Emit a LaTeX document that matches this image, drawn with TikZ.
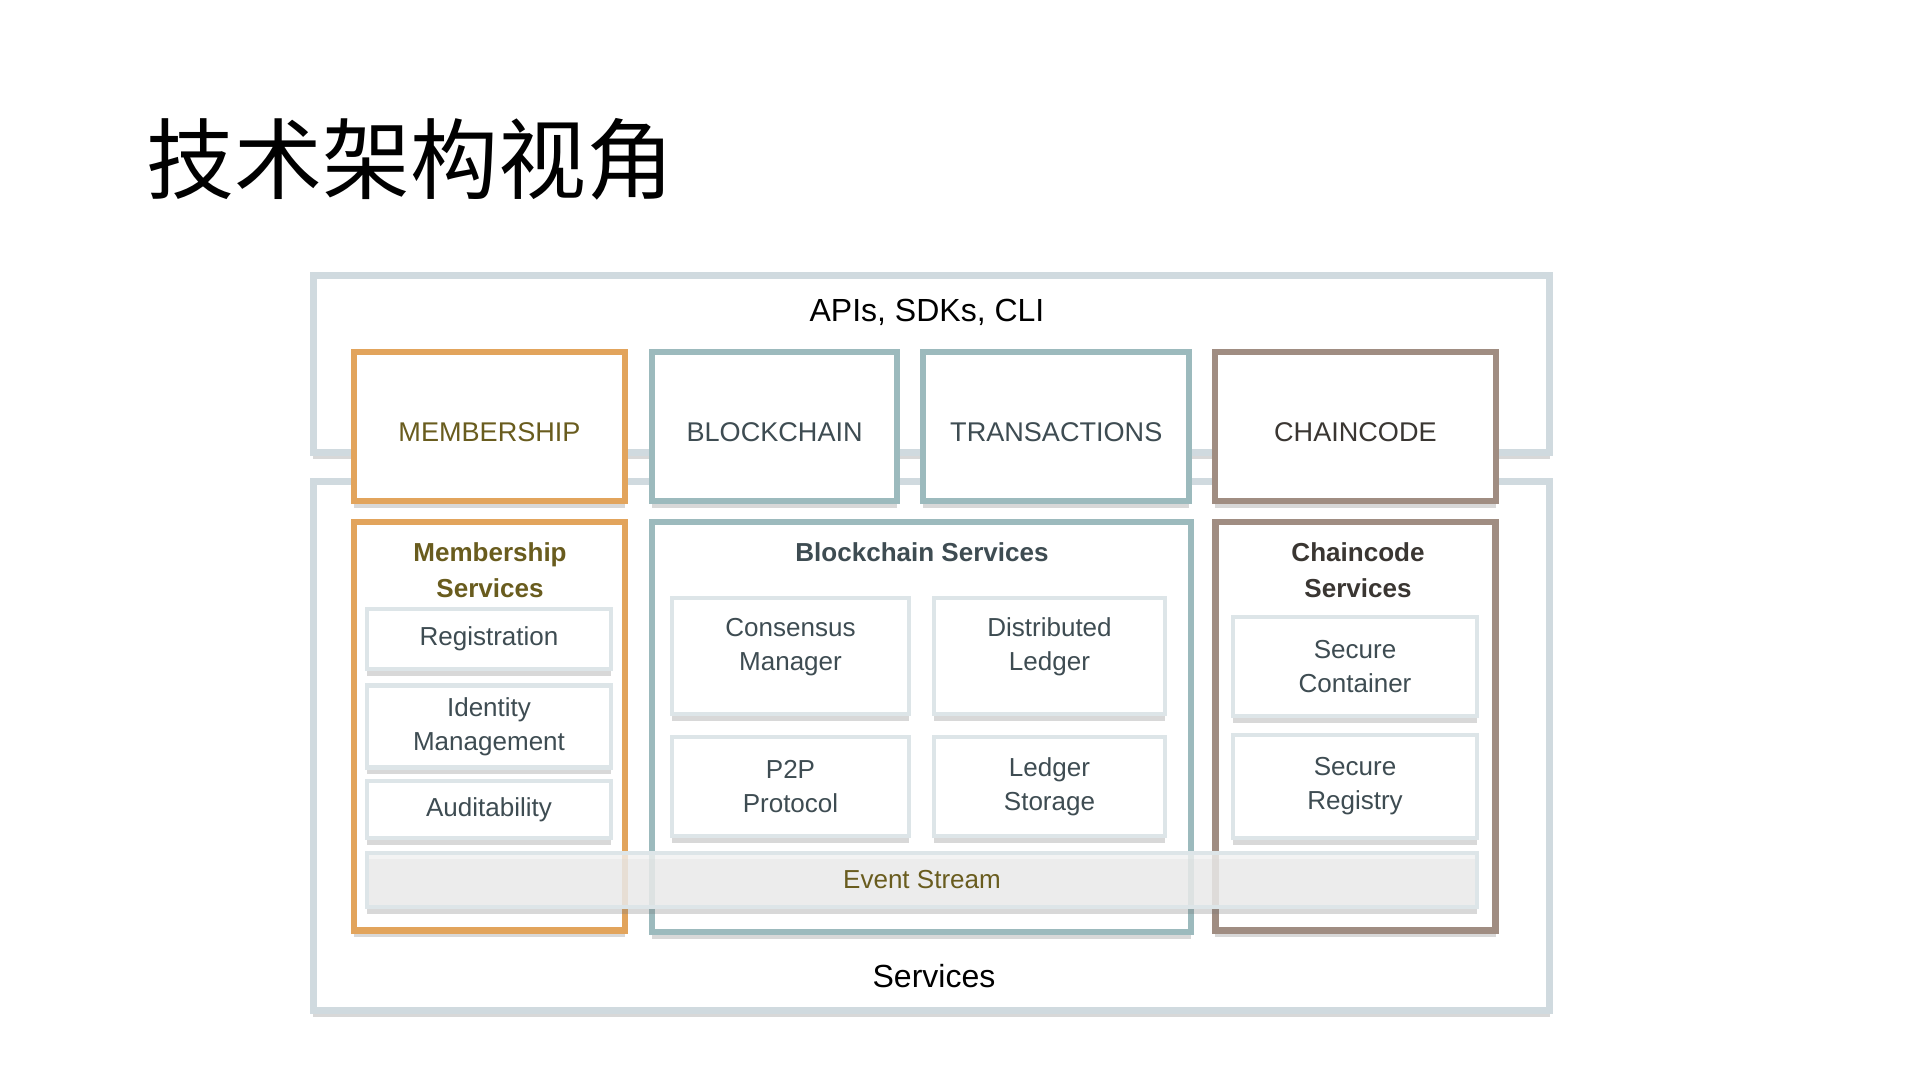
\documentclass[tikz,border=0pt]{standalone}
\usepackage{fontspec}
\setmainfont{Liberation Sans}
\newfontfamily\cjkfont{Noto Sans CJK SC}
\usetikzlibrary{positioning,shadows}
\definecolor{FrameGrey} {RGB}{208,218,223}
\definecolor{BoxGrey}   {RGB}{221,229,232}
\definecolor{MemOrange} {RGB}{226,164,92}
\definecolor{ChainTeal} {RGB}{156,186,189}
\definecolor{CodeBrown} {RGB}{160,141,130}
\definecolor{TextOlive} {RGB}{105,92,30}
\definecolor{TextSlate} {RGB}{62,76,82}
\definecolor{TextDark}  {RGB}{58,54,50}
\definecolor{StreamFill}{RGB}{241,241,241}

\begin{document}
\begin{tikzpicture}[x=0.01cm, y=-0.01cm,
  soft/.style ={drop shadow={shadow xshift=0pt, shadow yshift=-0.065cm,
                opacity=0.28, fill=black!55}},
  frame/.style={rectangle, draw=FrameGrey, line width=2pt, fill=white,
                minimum width=12.36cm, soft},
  layer/.style={rectangle, draw, line width=1.7pt, fill=white,
                minimum height=1.49cm, text height=8.4pt, text depth=0pt,
                font=\fontsize{7.7}{9}\selectfont, soft},
  panel/.style={rectangle, draw, line width=1.8pt, fill=white,
                minimum width=2.71cm, minimum height=4.08cm, soft},
  head/.style ={align=center, font=\bfseries\fontsize{7.4}{10.1}\selectfont},
  part/.style ={rectangle, draw=BoxGrey, line width=1.2pt, fill=white,
                align=center, text=TextSlate, minimum width=2.44cm,
                font=\fontsize{7.4}{9.7}\selectfont, soft},
  parttext/.style={align=center, text=TextSlate, yshift=0.09cm,
                font=\fontsize{7.4}{9.7}\selectfont},
  caption/.style={font=\fontsize{9.1}{11}\selectfont, text=black}
]
\useasboundingbox (0,0) rectangle (1920,1080);

% title
\node[anchor=west, inner sep=0pt, font=\cjkfont\fontsize{25}{27}\selectfont]
  (title) at (146,159) {技术架构视角};

% outer frames
\node[frame, minimum height=1.77cm] (api) at (931.5,364) {};
\node[frame, minimum height=5.29cm] (svc) at (931.5,746) {};
\node[caption] (apis)  at (927,312) {APIs, SDKs, CLI};
\node[caption] (svcs)  at (934,976) {Services};

% top row
\node[layer, draw=MemOrange, text=TextOlive, minimum width=2.71cm]
  (mem) at (489.5,426.5) {MEMBERSHIP};
\node[layer, draw=ChainTeal, text=TextSlate, minimum width=2.45cm,
  right=0.21cm of mem] (bc) {BLOCKCHAIN};
\node[layer, draw=ChainTeal, text=TextSlate, minimum width=2.66cm,
  right=0.2cm of bc] (tx) {TRANSACTIONS};
\node[layer, draw=CodeBrown, text=TextDark, minimum width=2.80cm,
  right=0.2cm of tx] (cc) {CHAINCODE};

% service panels
\node[panel, draw=MemOrange, below=0.15cm of mem] (mp) {};
\node[panel, draw=ChainTeal, minimum width=5.39cm, minimum height=4.10cm]
  (bp) at (921.5,727) {};
\node[panel, draw=CodeBrown, minimum width=2.80cm, below=0.15cm of cc] (cp) {};

\node[head, text=TextOlive] (mph) at (490,570)  {Membership\\Services};
\node[head, text=TextSlate] (bph) at (922,552)  {Blockchain Services};
\node[head, text=TextDark]  (cph) at (1358,570) {Chaincode\\Services};

% membership parts
\node[part, minimum height=0.60cm] (reg) at (489,639)   {Registration};
\node[part, minimum height=0.77cm] (idm) at (489,726.5) {Identity\\Management};
\node[part, minimum height=0.57cm] (aud) at (489,809.5) {Auditability};

% blockchain parts (upper pair has its text set high)
\node[part, minimum width=2.37cm, minimum height=1.16cm,
  label={[parttext]center:Consensus\\Manager}] (con) at (790.5,656) {};
\node[part, minimum width=2.31cm, minimum height=1.16cm,
  label={[parttext]center:Distributed\\Ledger}] (dis) at (1049.5,656) {};
\node[part, minimum width=2.37cm, minimum height=0.99cm]
  (p2p) at (790.5,786.5)  {P2P\\Protocol};
\node[part, minimum width=2.31cm, minimum height=0.99cm]
  (lst) at (1049.5,786.5) {Ledger\\Storage};

% chaincode parts
\node[part, minimum height=0.99cm] (sco) at (1355,666.5) {Secure\\Container};
\node[part, minimum height=1.03cm] (sre) at (1355,786.5) {Secure\\Registry};

% event stream across all panels
\node[part, fill=StreamFill, fill opacity=0.8, text opacity=1, text=TextOlive,
  minimum width=11.10cm, minimum height=0.54cm] (evs) at (922,880) {Event Stream};
\end{tikzpicture}
\end{document}
